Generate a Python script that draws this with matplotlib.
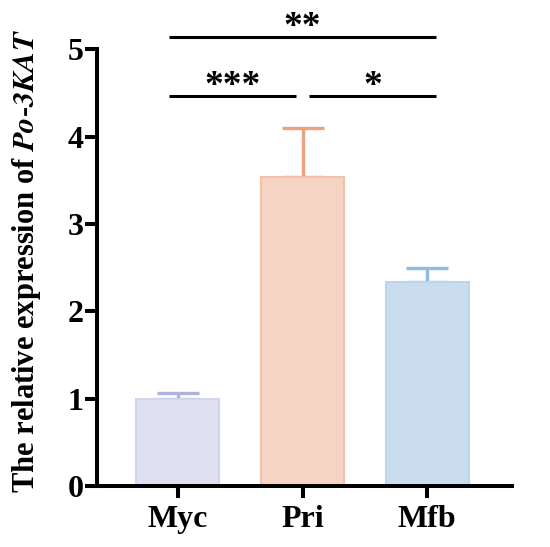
import matplotlib
matplotlib.use("Agg")
import matplotlib.pyplot as plt

groups = ["Myc", "Pri", "Mfb"]
means = [1.0, 3.54, 2.33]
errs = [0.07, 0.56, 0.17]

fill_colors = ["#e0e1f0", "#f6d4c4", "#c9ddee"]
edge_colors = ["#d2d5ec", "#f3c1aa", "#bad5ec"]
err_colors = ["#adb3df", "#efa083", "#8dbde3"]

# significance: (left group, right group, height, label)
sig_pairs = [(0, 2, 5.14, "**"), (0, 1, 4.46, "***"), (1, 2, 4.46, "*")]

plt.rcParams["font.family"] = ["Liberation Serif", "DejaVu Serif"]
plt.rcParams["font.weight"] = "bold"
plt.rcParams["mathtext.fontset"] = "stix"

fig = plt.figure(figsize=(5.5, 5.47), dpi=100)
ax = fig.add_axes([0.176, 0.1115, 0.755, 0.7985])

x = list(range(len(groups)))
for i in x:
    ax.errorbar(i, means[i], yerr=[[0], [errs[i]]], fmt="none",
                ecolor=err_colors[i], elinewidth=2.4, capsize=15, capthick=2.4, zorder=1)
    ax.bar(i, means[i], width=0.665, color=fill_colors[i], edgecolor=edge_colors[i],
           linewidth=1.5, zorder=2)

ax.set_xlim(-0.65, 2.68)
ax.set_ylim(0, 5)
ax.set_yticks([0, 1, 2, 3, 4, 5])
ax.set_xticks(x)
ax.set_xticklabels(groups)

for s in ["top", "right"]:
    ax.spines[s].set_visible(False)
for s in ["left", "bottom"]:
    ax.spines[s].set_linewidth(2.9)
ax.tick_params(axis="both", width=2.9, length=8.5, labelsize=23)
ax.tick_params(axis="x", pad=5)
ax.tick_params(axis="y", pad=1)

ax.set_ylabel("The relative expression of $\\bfit{Po}$-$\\bfit{3KAT}$", fontsize=22,
              fontweight="bold", labelpad=18)
ax.yaxis.label.set_y(0.515)

gap = 0.05
for a, b, h, lab in sig_pairs:
    x0, x1 = a - 0.07, b + 0.07
    if b - a == 1:
        if a == 0:
            x1 = b - gap
        else:
            x0 = a + gap
    ax.plot([x0, x1], [h, h], color="black", lw=2.2, clip_on=False,
            solid_capstyle="butt")
    ax.text((x0 + x1) / 2, h + 0.0, lab, ha="center", va="baseline",
            fontsize=27, fontweight="bold")

fig.savefig("out.png", dpi=100)
